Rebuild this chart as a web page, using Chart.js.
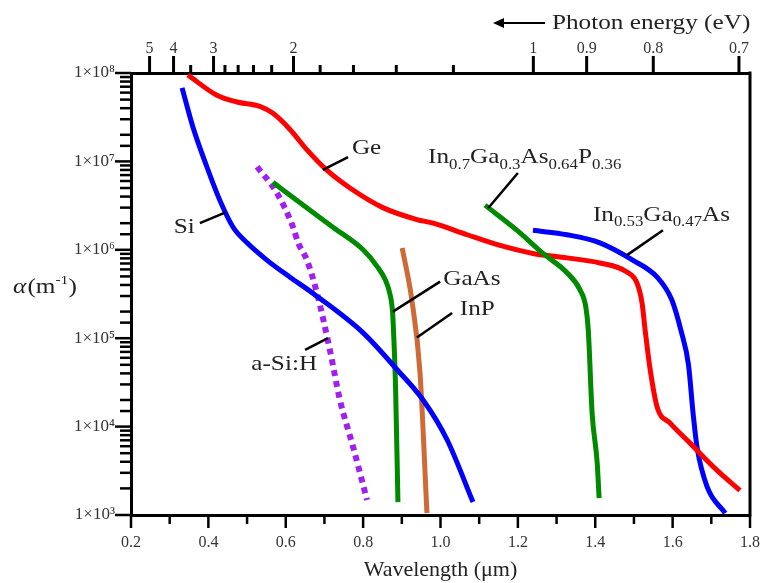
<!DOCTYPE html>
<html>
<head>
<meta charset="utf-8">
<script src="https://cdn.jsdelivr.net/npm/chart.js@4.4.1/dist/chart.umd.min.js"></script>
<style>
  html, body { margin: 0; padding: 0; background: #fff; }
</style>
</head>
<body>
<canvas id="chart" width="765" height="583"></canvas>
<script>
// wavelength (µm) and absorption coefficient alpha (1/m)
const siX = [0.332, 0.360, 0.396, 0.430, 0.464, 0.500, 0.552, 0.611, 0.671, 0.800, 0.888, 0.955, 1.017, 1.084];
const siY = [6.8e7, 2.45e7, 8.7e6, 3.6e6, 1.8e6, 1.2e6, 7.6e5, 4.9e5, 3.2e5, 1.15e5, 4.4e4, 2.0e4, 7.1e3, 1.4e3];

const geX = [0.347, 0.422, 0.474, 0.533, 0.567, 0.611, 0.655, 0.707, 0.766, 0.851, 0.939, 0.981, 1.069, 1.154, 1.239, 1.327, 1.412, 1.482, 1.508, 1.521, 1.529, 1.542, 1.560, 1.593, 1.645, 1.715, 1.774];
const geY = [9.5e7, 5.6e7, 4.7e7, 4.2e7, 3.5e7, 2.3e7, 1.35e7, 7.9e6, 5.0e6, 3.0e6, 2.2e6, 2.0e6, 1.48e6, 1.12e6, 9.1e5, 8.1e5, 7.1e5, 5.6e5, 4.2e5, 2.5e5, 1.23e5, 4.4e4, 1.66e4, 1.1e4, 6.5e3, 3.2e3, 1.9e3];

const gaasX = [0.567, 0.637, 0.722, 0.800, 0.836, 0.857, 0.869, 0.876, 0.879, 0.884, 0.890];
const gaasY = [5.8e6, 3.4e6, 1.8e6, 1.0e6, 6.5e5, 4.6e5, 3.2e5, 2.0e5, 1.1e5, 2.6e4, 1.4e3];

const inpX = [0.901, 0.926, 0.947, 0.965];
const inpY = [1.05e6, 2.7e5, 4.1e4, 1.05e3];

const asihX = [0.526, 0.577, 0.619, 0.632, 0.655, 0.681, 0.714, 0.740, 0.774, 0.810];
const asihY = [8.7e6, 4.4e6, 1.8e6, 1.2e6, 7.6e5, 3.2e5, 7.4e4, 2.0e4, 5.9e3, 1.48e3];

const ingaaspX = [1.115, 1.198, 1.265, 1.327, 1.361, 1.376, 1.382, 1.392, 1.405, 1.410];
const ingaaspY = [3.2e6, 1.66e6, 9.1e5, 5.5e5, 3.5e5, 2.2e5, 1.23e5, 1.4e4, 3.9e3, 1.55e3];

const ingaasX = [1.239, 1.327, 1.412, 1.498, 1.560, 1.598, 1.622, 1.641, 1.653, 1.663, 1.689, 1.736];
const ingaasY = [1.66e6, 1.48e6, 1.2e6, 7.6e5, 4.9e5, 2.7e5, 1.2e5, 5.0e4, 1.4e4, 5.9e3, 2.1e3, 1.05e3];

// photon energy ticks on the top axis (eV)
const energyMajor = [5, 4, 3, 2, 1, 0.9, 0.8, 0.7];
const energyMinor = [3.5, 2.8, 2.6, 2.4, 2.2, 1.8, 1.6, 1.4, 1.2];

const SERIF = '"Liberation Serif", "Times New Roman", serif';
const STRETCH = 1.2;

function pts(xs, ys) {
  return xs.map((x, i) => ({ x: x, y: ys[i] }));
}

const isDecade = v => Math.abs(Math.log10(v) - Math.round(Math.log10(v))) < 1e-6;
const supDigits = '⁰¹²³⁴⁵⁶⁷⁸⁹';

// call-out labels: segments [text, subscript?], line from/to and text anchor in data units
const callouts = [
  { segs: [['Ge', 0]], from: [0.696, 8.0e6], to: [0.761, 1.12e7], at: [0.771, 1.41e7], align: 'left' },
  { segs: [['Si', 0]], from: [0.378, 2.0e6], to: [0.443, 2.63e6], at: [0.365, 1.78e6], align: 'right' },
  { segs: [['GaAs', 0]], from: [0.877, 2.0e5], to: [0.999, 4.37e5], at: [1.007, 4.57e5], align: 'left' },
  { segs: [['InP', 0]], from: [0.939, 1.02e5], to: [1.030, 1.93e5], at: [1.050, 2.09e5], align: 'left' },
  { segs: [['a-Si:H', 0]], from: [0.650, 7.4e4], to: [0.709, 1.0e5], at: [0.681, 5.0e4], align: 'right' },
  { segs: [['In', 0], ['0.7', 1], ['Ga', 0], ['0.3', 1], ['As', 0], ['0.64', 1], ['P', 0], ['0.36', 1]],
    from: [1.123, 2.95e6], to: [1.200, 7.4e6], at: [0.968, 1.1e7], align: 'left' },
  { segs: [['In', 0], ['0.53', 1], ['Ga', 0], ['0.47', 1], ['As', 0]],
    from: [1.482, 8.7e5], to: [1.575, 1.66e6], at: [1.394, 2.45e6], align: 'left' }
];

function drawRich(ctx, segs, x, y, align, size) {
  const sub = Math.round(size * 0.66);
  let w = 0;
  segs.forEach(([t, s]) => {
    ctx.font = (s ? sub : size) + 'px ' + SERIF;
    w += ctx.measureText(t).width;
  });
  ctx.save();
  ctx.translate(x, y);
  ctx.scale(STRETCH, 1);
  ctx.fillStyle = '#222';
  ctx.textBaseline = 'middle';
  ctx.textAlign = 'left';
  let cx = align === 'right' ? -w : 0;
  segs.forEach(([t, s]) => {
    ctx.font = (s ? sub : size) + 'px ' + SERIF;
    ctx.fillText(t, cx, s ? size * 0.35 : 0);
    cx += ctx.measureText(t).width;
  });
  ctx.restore();
}

function seg(ctx, x1, y1, x2, y2) {
  ctx.beginPath();
  ctx.moveTo(x1, y1);
  ctx.lineTo(x2, y2);
  ctx.stroke();
}

const decor = {
  id: 'decor',
  afterDraw(chart) {
    const { ctx, chartArea: a, scales } = chart;
    ctx.save();
    ctx.strokeStyle = '#000';
    ctx.lineCap = 'butt';

    // right frame line
    ctx.lineWidth = 3;
    seg(ctx, a.right, a.top - 1.5, a.right, a.bottom + 1.5);

    // tick marks
    ctx.lineWidth = 2.5;
    scales.y.ticks.forEach(t => {
      const p = scales.y.getPixelForValue(t.value);
      seg(ctx, a.left, p, a.left - (isDecade(t.value) ? 16 : 11), p);
    });
    scales.x.ticks.forEach(t => {
      const p = scales.x.getPixelForValue(t.value);
      const major = Math.round(t.value * 10) % 2 === 0;
      seg(ctx, p, a.bottom, p, a.bottom + (major ? 13 : 9));
    });
    ctx.lineWidth = 3;
    scales.x2.ticks.forEach(t => {
      const p = scales.x2.getPixelForValue(t.value);
      seg(ctx, p, a.top, p, a.top - (t.major ? 17 : 8));
    });

    // call-outs
    ctx.lineWidth = 2.5;
    callouts.forEach(c => {
      seg(ctx,
        scales.x.getPixelForValue(c.from[0]), scales.y.getPixelForValue(c.from[1]),
        scales.x.getPixelForValue(c.to[0]), scales.y.getPixelForValue(c.to[1]));
      drawRich(ctx, c.segs, scales.x.getPixelForValue(c.at[0]), scales.y.getPixelForValue(c.at[1]), c.align, 21);
    });

    // y axis title
    ctx.fillStyle = '#222';
    ctx.save();
    ctx.translate(13, 287);
    ctx.scale(STRETCH, 1);
    ctx.textBaseline = 'middle';
    ctx.font = 'italic 21px ' + SERIF;
    ctx.fillText('α', 0, 0);
    let cx = ctx.measureText('α').width + 1;
    ctx.font = '21px ' + SERIF;
    ctx.fillText('(m', cx, 0);
    cx += ctx.measureText('(m').width;
    ctx.font = '13px ' + SERIF;
    ctx.fillText('-1', cx, -6);
    cx += ctx.measureText('-1').width;
    ctx.font = '21px ' + SERIF;
    ctx.fillText(')', cx, 0);
    ctx.restore();

    // top axis title with arrow
    ctx.lineWidth = 2;
    seg(ctx, 545, 23, 500, 23);
    ctx.fillStyle = '#000';
    ctx.beginPath();
    ctx.moveTo(493, 23);
    ctx.lineTo(504, 18);
    ctx.lineTo(504, 28);
    ctx.closePath();
    ctx.fill();
    ctx.fillStyle = '#222';
    ctx.save();
    ctx.translate(552, 23);
    ctx.scale(STRETCH, 1);
    ctx.textBaseline = 'middle';
    ctx.font = '21px ' + SERIF;
    ctx.fillText('Photon energy (eV)', 0, 0);
    ctx.restore();

    ctx.restore();
  }
};

const tickFont = { family: SERIF, size: 16 };
const lineDefaults = { showLine: true, pointRadius: 0, borderWidth: 5, fill: false, cubicInterpolationMode: 'monotone' };

const noEdgePad = s => { s.paddingLeft = 0; s.paddingRight = 0; };

new Chart(document.getElementById('chart').getContext('2d'), {
  type: 'scatter',
  data: {
    datasets: [
      Object.assign({ label: 'Si', data: pts(siX, siY), borderColor: '#0000ff' }, lineDefaults),
      Object.assign({ label: 'GaAs', data: pts(gaasX, gaasY), borderColor: '#008a00' }, lineDefaults),
      Object.assign({ label: 'InP', data: pts(inpX, inpY), borderColor: '#cd6a36' }, lineDefaults),
      Object.assign({ label: 'a-Si:H', data: pts(asihX, asihY), borderColor: '#a020f0' }, lineDefaults,
        { borderWidth: 6, borderDash: [6, 5] }),
      Object.assign({ label: 'In0.7Ga0.3As0.64P0.36', data: pts(ingaaspX, ingaaspY), borderColor: '#008a00' }, lineDefaults),
      Object.assign({ label: 'Ge', data: pts(geX, geY), borderColor: '#ff0000' }, lineDefaults),
      Object.assign({ label: 'In0.53Ga0.47As', data: pts(ingaasX, ingaasY), borderColor: '#0000ff' }, lineDefaults)
    ]
  },
  options: {
    responsive: false,
    animation: false,
    layout: { padding: { left: 0, right: 15, top: 0, bottom: 0 } },
    plugins: {
      legend: { display: false },
      tooltip: { enabled: false }
    },
    scales: {
      x: {
        type: 'linear',
        position: 'bottom',
        min: 0.2,
        max: 1.8,
        grid: { display: false, drawTicks: false },
        border: { display: true, width: 3, color: '#000' },
        ticks: {
          stepSize: 0.1,
          autoSkip: false,
          maxRotation: 0,
          padding: 18,
          color: '#333',
          font: tickFont,
          callback: v => (Math.round(v * 10) % 2 === 0 ? v.toFixed(1) : '')
        },
        title: {
          display: true,
          text: 'Wavelength (μm)',
          color: '#222',
          font: { family: SERIF, size: 22 },
          padding: { top: 0, bottom: 0 }
        },
        afterFit: s => { s.height = 68; noEdgePad(s); }
      },
      x2: {
        type: 'linear',
        position: 'top',
        min: 0.2,
        max: 1.8,
        grid: { display: false, drawTicks: false },
        border: { display: true, width: 3, color: '#000' },
        afterBuildTicks: s => {
          const major = energyMajor.map(e => ({ value: 1.24 / e, major: true }));
          const minor = energyMinor.map(e => ({ value: 1.24 / e, major: false }));
          s.ticks = major.concat(minor).sort((p, q) => p.value - q.value);
        },
        ticks: {
          autoSkip: false,
          maxRotation: 0,
          padding: 15,
          color: '#333',
          font: tickFont,
          callback: v => {
            const e = energyMajor.find(en => Math.abs(1.24 / en - v) < 1e-6);
            return e === undefined ? '' : String(e);
          }
        },
        afterFit: s => { s.height = 73; noEdgePad(s); }
      },
      y: {
        type: 'logarithmic',
        position: 'left',
        min: 1e3,
        max: 1e8,
        grid: { display: false, drawTicks: false },
        border: { display: true, width: 3, color: '#000' },
        ticks: {
          autoSkip: false,
          padding: 16,
          color: '#333',
          font: { family: SERIF, size: 17 },
          callback: v => (isDecade(v) ? '1×10' + supDigits[Math.round(Math.log10(v))] : '')
        },
        afterFit: s => { s.width = 131; s.paddingTop = 0; s.paddingBottom = 0; }
      }
    }
  },
  plugins: [decor]
});
</script>
</body>
</html>
